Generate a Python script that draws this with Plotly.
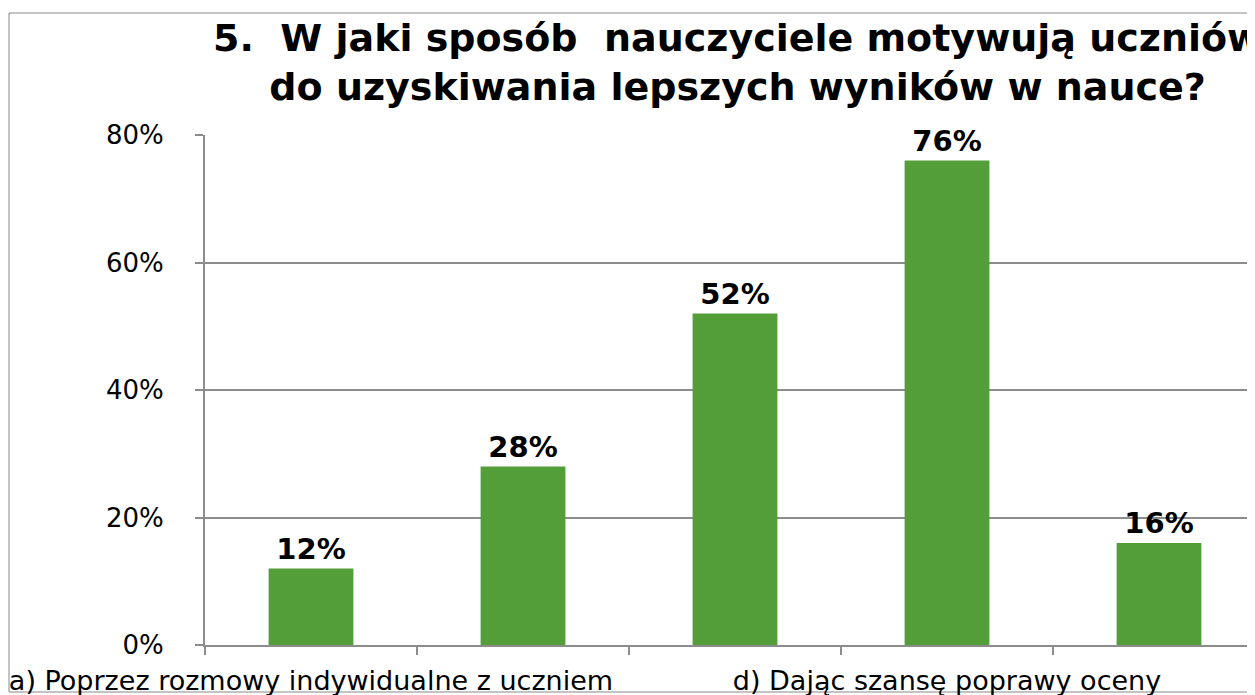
import plotly.graph_objects as go

# Dane z wykresu (etykiety b, c, e nie są widoczne na oryginale)
categories = [
    "a) Poprzez rozmowy indywidualne z uczniem",
    "b)",
    "c)",
    "d) Dając szansę poprawy oceny",
    "e)",
]
values = [0.12, 0.28, 0.52, 0.76, 0.16]
shown_labels = [
    "a) Poprzez rozmowy indywidualne z uczniem",
    "",
    "",
    "d) Dając szansę poprawy oceny",
    "",
]
y_ticks = [0, 0.2, 0.4, 0.6, 0.8]

title_text = ("5.\u00a0 W jaki sposób\u00a0 nauczyciele motywują uczniów"
              "<br>do uzyskiwania lepszych wyników w nauce?")

FONT = "DejaVu Sans, Verdana, sans-serif"
GRID = "#8c8c8c"

# strona ma 8 px marginesu body, więc figura jest o 8 px mniejsza
W, H = 1247, 687
L, T, B = 197, 127, 50
PW, PH = W - L, H - T - B


def px_x(x):
    return (x - 8 - L) / PW


def px_y(y):
    return (H - B - (y - 8)) / PH


fig = go.Figure()
fig.add_trace(
    go.Bar(
        x=categories,
        y=values,
        width=0.4,
        marker=dict(color="#549e3a", line=dict(width=0)),
        text=[f"{round(v * 100)}%" for v in values],
        textposition="outside",
        textfont=dict(family=FONT, size=29, color="#000000", weight="bold"),
        cliponaxis=False,
    )
)

fig.update_layout(
    width=W,
    height=H,
    margin=dict(l=L, r=0, t=T, b=B, autoexpand=False),
    paper_bgcolor="white",
    plot_bgcolor="white",
    showlegend=False,
    font=dict(family=FONT, color="#000000"),
    xaxis=dict(
        type="category",
        range=[-0.5, -0.5 + PW / 212],
        tickmode="array",
        tickvals=categories,
        ticktext=shown_labels,
        tickson="boundaries",
        tickangle=0,
        automargin=False,
        ticks="outside",
        ticklen=8,
        tickwidth=2,
        tickcolor=GRID,
        showline=True,
        linecolor=GRID,
        linewidth=2,
        showgrid=False,
        tickfont=dict(family=FONT, size=27, color="#000000"),
        ticklabelstandoff=11,
    ),
    yaxis=dict(
        range=[0, 0.8],
        tickvals=y_ticks,
        tickformat=".0%",
        automargin=False,
        ticks="outside",
        ticklen=8,
        tickwidth=2,
        tickcolor=GRID,
        showline=True,
        linecolor=GRID,
        linewidth=2,
        showgrid=True,
        gridcolor=GRID,
        gridwidth=2,
        zeroline=False,
        tickfont=dict(family=FONT, size=26, color="#000000"),
        ticklabelstandoff=26,
    ),
    bargap=0.6,
)

# tytuł jako adnotacja, żeby dokładnie ustawić położenie
fig.add_annotation(
    text=title_text,
    xref="paper", yref="paper",
    x=px_x(737), y=px_y(62),
    xanchor="center", yanchor="middle",
    showarrow=False,
    font=dict(family=FONT, size=38, color="#000000", weight="bold"),
)

# ramka całego wykresu
fig.add_shape(
    type="rect",
    xref="paper", yref="paper",
    x0=px_x(9), x1=1.2,
    y0=px_y(692), y1=px_y(13),
    line=dict(color="#888888", width=1),
    fillcolor="rgba(0,0,0,0)",
    layer="below",
)

fig.write_html("out.html")
